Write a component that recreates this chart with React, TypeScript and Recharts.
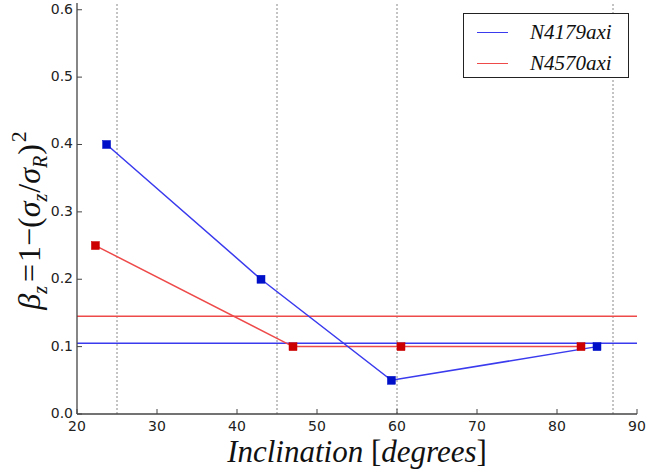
import React from 'react';
import { LineChart, Line, XAxis, YAxis, ReferenceLine } from 'recharts';

const xTicks = [20, 30, 40, 50, 60, 70, 80, 90];
const yTicks = [0, 0.1, 0.2, 0.3, 0.4, 0.5, 0.6];
const n4179 = [
  { x: 23.7, y: 0.4 },
  { x: 43, y: 0.2 },
  { x: 59.3, y: 0.05 },
  { x: 85, y: 0.1 },
];
const n4570 = [
  { x: 22.3, y: 0.25 },
  { x: 47, y: 0.1 },
  { x: 60.5, y: 0.1 },
  { x: 83, y: 0.1 },
];
const n4179Level = 0.105;
const n4570Level = 0.145;
const inclinationMarks = [25, 45, 60, 87];
const seriesNames = ['N4179axi', 'N4570axi'];

const BLUE_LINE = '#3a3aee';
const RED_LINE = '#ee4a4a';
const BLUE_MARK = '#0010c8';
const RED_MARK = '#cc0000';
const FRAME = '#444';
const TICK_FONT = 'DejaVu Sans, sans-serif';
const TICK_COLOR = '#222';

const Square = (color: string) => (props: any) => {
  const { cx, cy } = props;
  if (cx == null || cy == null) return null;
  return <rect x={cx - 4} y={cy - 4} width={8} height={8} fill={color} stroke={color} strokeWidth={0.5} />;
};

const BottomTick = (props: any) => {
  const { x, y, payload } = props;
  return (
    <g>
      <line x1={x} y1={y} x2={x} y2={y - 5} stroke={FRAME} strokeWidth={1} />
      <text x={x} y={y + 17} textAnchor="middle" fontFamily={TICK_FONT} fontSize={14} fill={TICK_COLOR}>
        {payload.value}
      </text>
    </g>
  );
};
const TopTick = (props: any) => {
  const { x, y } = props;
  return <line x1={x} y1={y} x2={x} y2={y + 5} stroke={FRAME} strokeWidth={1} />;
};
const LeftTick = (props: any) => {
  const { x, y, payload } = props;
  return (
    <g>
      <line x1={x} y1={y} x2={x + 5} y2={y} stroke={FRAME} strokeWidth={1} />
      <text x={x - 4} y={y + 4} textAnchor="end" fontFamily={TICK_FONT} fontSize={14} fill={TICK_COLOR}>
        {Number(payload.value).toFixed(1)}
      </text>
    </g>
  );
};
const RightTick = (props: any) => {
  const { x, y } = props;
  return <line x1={x} y1={y} x2={x - 5} y2={y} stroke={FRAME} strokeWidth={1} />;
};

const XLabel = (props: any) => {
  const vb = props.viewBox || {};
  const cx = vb.x + vb.width / 2;
  return (
    <text x={cx} y={vb.y + 48} textAnchor="middle" fontFamily="Liberation Serif, serif" fontStyle="italic" fontSize={31} fill="#111">
      Inclination <tspan fontStyle="normal">[</tspan>degrees<tspan fontStyle="normal">]</tspan>
    </text>
  );
};

const YLabel = (props: any) => {
  const vb = props.viewBox || {};
  const cy = vb.y + vb.height / 2 + 12;
  const cx = 40;
  return (
    <text
      x={cx}
      y={cy}
      transform={`rotate(-90, ${cx}, ${cy})`}
      textAnchor="middle"
      fontFamily="Liberation Serif, serif"
      fontSize={32}
      fill="#111"
    >
      <tspan fontStyle="italic">β</tspan>
      <tspan fontStyle="italic" fontSize={20} dy={7}>z</tspan>
      <tspan dy={-7} dx={4}>=</tspan>
      <tspan dx={2}>1</tspan>
      <tspan>−</tspan>
      <tspan>(</tspan>
      <tspan fontStyle="italic">σ</tspan>
      <tspan fontStyle="italic" fontSize={20} dy={7}>z</tspan>
      <tspan dy={-7} dx={1}>/</tspan>
      <tspan fontStyle="italic">σ</tspan>
      <tspan fontStyle="italic" fontSize={20} dy={7}>R</tspan>
      <tspan dy={-7} dx={1}>)</tspan>
      <tspan fontSize={22} dy={-14} dx={2}>2</tspan>
    </text>
  );
};

const LegendBox = () => (
  <div
    style={{
      position: 'absolute',
      left: 463,
      top: 13,
      border: '1.2px solid #222',
      background: '#fff',
      width: 166,
      height: 65,
      boxSizing: 'border-box',
    }}
  >
    {seriesNames.map((name, i) => (
      <div key={name} style={{ position: 'absolute', left: 13, top: 6 + i * 31, display: 'flex', alignItems: 'center', height: 24 }}>
        <div style={{ width: 31, height: 0, borderTop: `1.5px solid ${i === 0 ? BLUE_LINE : RED_LINE}` }} />
        <span
          style={{
            marginLeft: 22,
            fontFamily: 'Liberation Serif, serif',
            fontStyle: 'italic',
            fontSize: 21,
            color: '#111',
            lineHeight: '24px',
          }}
        >
          {name}
        </span>
      </div>
    ))}
  </div>
);

export default function App() {
  return (
    <div style={{ position: 'absolute', left: 0, top: 0, width: 647, height: 470, background: '#fff' }}>
      <LineChart width={647} height={470} margin={{ top: 3, right: 10, bottom: 0, left: 0 }}>
        <XAxis
          xAxisId={0}
          type="number"
          dataKey="x"
          domain={[20, 90]}
          ticks={xTicks}
          allowDataOverflow
          tickSize={0}
          tickMargin={0}
          tick={<BottomTick />}
          axisLine={{ stroke: FRAME, strokeWidth: 1.3 }}
          height={56}
          label={<XLabel />}
        />
        <XAxis
          xAxisId="top"
          orientation="top"
          type="number"
          dataKey="x"
          domain={[20, 90]}
          ticks={xTicks}
          allowDataOverflow
          tickSize={0}
          tickMargin={0}
          tick={<TopTick />}
          axisLine={{ stroke: FRAME, strokeWidth: 1.3 }}
          height={0}
        />
        <YAxis
          yAxisId={0}
          type="number"
          domain={[0, 0.61]}
          ticks={yTicks}
          allowDataOverflow
          tickSize={0}
          tickMargin={0}
          tick={<LeftTick />}
          axisLine={{ stroke: FRAME, strokeWidth: 1.3 }}
          width={77}
          label={<YLabel />}
        />
        <YAxis
          yAxisId="right"
          orientation="right"
          type="number"
          domain={[0, 0.61]}
          ticks={yTicks}
          allowDataOverflow
          tickSize={0}
          tickMargin={0}
          tick={<RightTick />}
          axisLine={{ stroke: FRAME, strokeWidth: 1.3 }}
          width={0}
        />
        {inclinationMarks.map((v) => (
          <ReferenceLine key={v} x={v} stroke="#888" strokeDasharray="2 2" strokeWidth={1} />
        ))}
        <ReferenceLine y={n4570Level} stroke={RED_LINE} strokeWidth={1.5} />
        <ReferenceLine y={n4179Level} stroke={BLUE_LINE} strokeWidth={1.5} />
        <Line
          data={n4570}
          dataKey="y"
          name={seriesNames[1]}
          stroke={RED_LINE}
          strokeWidth={1.5}
          dot={Square(RED_MARK)}
          isAnimationActive={false}
        />
        <Line
          data={n4179}
          dataKey="y"
          name={seriesNames[0]}
          stroke={BLUE_LINE}
          strokeWidth={1.5}
          dot={Square(BLUE_MARK)}
          isAnimationActive={false}
        />
      </LineChart>
      <LegendBox />
    </div>
  );
}
